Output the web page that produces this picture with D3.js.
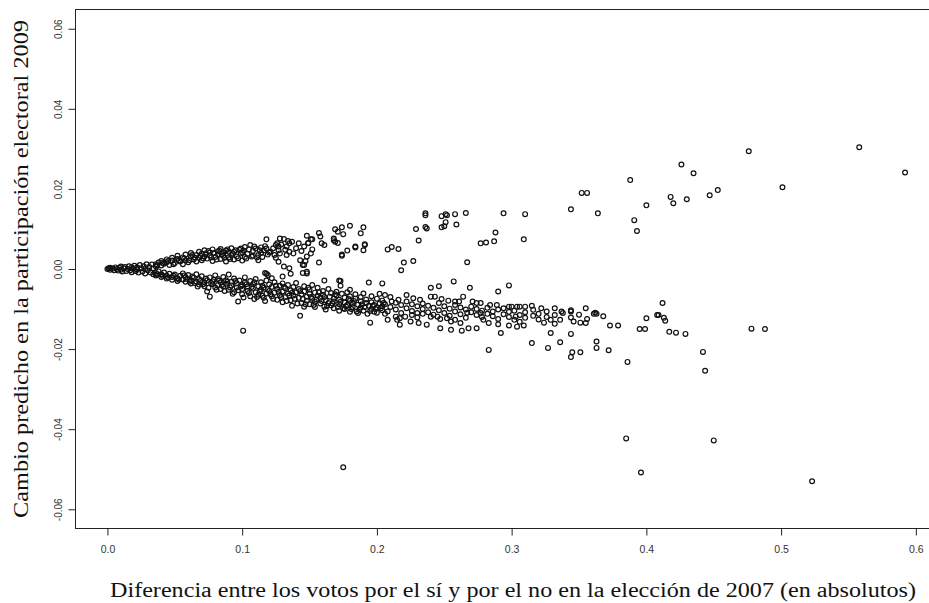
<!DOCTYPE html>
<html>
<head>
<meta charset="utf-8">
<script src="https://d3js.org/d3.v7.min.js"></script>
<style>
  body { margin: 0; background: #fff; }
  .tick-lab { font-family: "Liberation Sans", Arial, sans-serif; font-size: 10.5px; fill: #333; }
  .axis-title { font-family: "Liberation Serif", "DejaVu Serif", serif; font-size: 20px; fill: #111; }
</style>
</head>
<body>
<svg width="929" height="603"></svg>
<script>
// tick values and labels
const xTicks = [0, 0.1, 0.2, 0.3, 0.4, 0.5, 0.6];
const xTickLabels = ["0.0", "0.1", "0.2", "0.3", "0.4", "0.5", "0.6"];
const yTicks = [0.06, 0.04, 0.02, 0, -0.02, -0.04, -0.06];
const yTickLabels = ["0.06", "0.04", "0.02", "0.00", "-0.02", "-0.04", "-0.06"];

const xTitle = "Diferencia entre los votos por el sí y por el no en la elección de 2007 (en absolutos)";
const yTitle = "Cambio predicho en la participación electoral 2009";

// points: [diferencia, cambio]
const originCluster = [
  [0.000,0.0000],[0.001,0.0002],[0.002,0.0003],[0.002,-0.0002],[0.004,0.0001],[0.005,-0.0003],[0.006,0.0004],
  [0.007,0.0000],[0.008,-0.0004],[0.009,0.0003],[0.010,0.0006],[0.010,-0.0002],[0.011,-0.0006],[0.012,0.0002],
  [0.013,0.0005],[0.014,-0.0005],[0.015,0.0000],[0.016,0.0007],[0.017,-0.0003],[0.018,0.0004],[0.018,-0.0008],
  [0.019,0.0001],[0.020,0.0008],[0.021,-0.0005],[0.022,0.0004],[0.022,-0.0001],[0.023,-0.0009],[0.024,0.0010],
  [0.025,0.0002],[0.026,-0.0006],[0.027,0.0007],[0.028,-0.0011],[0.028,0.0000],[0.029,0.0012],[0.030,-0.0003],
  [0.031,0.0005],[0.032,-0.0009],[0.033,0.0011],[0.034,-0.0013],[0.034,0.0002]
];

const upperBranch = [
  [0.036,0.0012],[0.036,0.0006],[0.038,0.0016],[0.040,0.0009],[0.040,0.0020],[0.042,0.0013],[0.044,0.0024],
  [0.044,0.0017],[0.046,0.0010],[0.048,0.0021],[0.048,0.0028],[0.050,0.0015],[0.052,0.0025],[0.052,0.0033],
  [0.054,0.0019],[0.056,0.0012],[0.056,0.0029],[0.058,0.0036],[0.058,0.0022],[0.060,0.0017],[0.062,0.0031],
  [0.062,0.0040],[0.064,0.0024],[0.066,0.0035],[0.066,0.0019],[0.068,0.0043],[0.068,0.0028],[0.070,0.0022],
  [0.070,0.0038],[0.072,0.0047],[0.072,0.0031],[0.074,0.0026],[0.076,0.0041],[0.076,0.0034],[0.078,0.0020],
  [0.078,0.0049],[0.080,0.0030],[0.082,0.0044],[0.082,0.0037],[0.084,0.0025],[0.084,0.0050],[0.086,0.0033],
  [0.086,0.0041],[0.088,0.0046],[0.088,0.0019],[0.090,0.0029],[0.090,0.0043],[0.092,0.0052],[0.092,0.0035],
  [0.094,0.0024],[0.094,0.0043],[0.096,0.0031],[0.098,0.0048],[0.099,0.0051],[0.099,0.0039],[0.100,0.0021],
  [0.100,0.0042],[0.102,0.0055],[0.102,0.0030],[0.104,0.0038],[0.106,0.0060],[0.107,0.0031],[0.108,0.0045],
  [0.108,0.0033],[0.110,0.0051],[0.112,0.0022],[0.112,0.0035],[0.114,0.0054],[0.114,0.0040],[0.116,0.0046],
  [0.118,0.0074],[0.118,0.0051],[0.120,0.0041],[0.121,0.0043],[0.124,0.0035],[0.125,0.0060],[0.126,0.0064],
  [0.127,0.0056],[0.127,0.0047],[0.127,0.0018],[0.128,0.0076],[0.128,0.0039],[0.131,0.0075],[0.131,0.0006],
  [0.133,0.0056],[0.133,0.0035],[0.135,0.0064],[0.135,0.0043],[0.135,0.0002],[0.137,0.0068],[0.138,0.0039],
  [0.143,0.0022],[0.145,0.0010],[0.146,0.0056],[0.146,0.0010],[0.147,0.0020],[0.148,0.0083],[0.148,0.0031],
  [0.149,0.0065],[0.149,0.0064],[0.151,0.0074],[0.151,0.0039],[0.152,0.0049],[0.152,0.0074],[0.157,0.0090],
  [0.157,0.0016],[0.158,0.0081],[0.159,0.0064],[0.161,0.0060],[0.168,0.0076],[0.168,0.0072],[0.169,0.0068],
  [0.169,0.0099],[0.171,0.0065],[0.171,0.0093],[0.174,0.0104],[0.174,0.0033],[0.174,0.0036],[0.175,0.0087],
  [0.178,0.0046],[0.180,0.0108],[0.184,0.0054],[0.184,0.0056],[0.188,0.0089],[0.190,0.0104],[0.190,0.0047],
  [0.191,0.0060],[0.191,0.0062],[0.208,0.0049],[0.211,0.0055],[0.216,0.0050],[0.220,0.0016],[0.227,0.0020],
  [0.229,0.0100],[0.231,0.0071],[0.236,0.0139],[0.236,0.0134],[0.236,0.0105],[0.237,0.0101],[0.248,0.0132],
  [0.248,0.0104],[0.250,0.0107],[0.251,0.0137],[0.251,0.0117],[0.252,0.0134],[0.258,0.0137],[0.259,0.0111],
  [0.266,0.0140],[0.267,0.0017],[0.277,0.0064],[0.281,0.0066],[0.287,0.0069],[0.288,0.0091],[0.294,0.0139],
  [0.309,0.0074],[0.310,0.0137],[0.344,0.0149],[0.352,0.0190],[0.356,0.0190],[0.364,0.0139],[0.388,0.0222],
  [0.391,0.0122],[0.393,0.0095],[0.400,0.0159],[0.418,0.0180],[0.420,0.0164],[0.426,0.0261],[0.430,0.0174],
  [0.435,0.0239],[0.447,0.0184],[0.453,0.0197],[0.476,0.0294],[0.501,0.0204],[0.558,0.0304],[0.592,0.0241]
];

const upperDense = [
  [0.037,0.0009],[0.041,0.0015],[0.045,0.0020],[0.049,0.0012],[0.053,0.0021],[0.057,0.0026],[0.061,0.0022],
  [0.063,0.0035],[0.065,0.0028],[0.069,0.0033],[0.071,0.0027],[0.073,0.0039],[0.075,0.0045],[0.077,0.0029],
  [0.079,0.0040],[0.081,0.0024],[0.083,0.0046],[0.085,0.0037],[0.087,0.0028],[0.089,0.0049],[0.091,0.0025],
  [0.093,0.0039],[0.095,0.0047],[0.097,0.0027],[0.101,0.0046],[0.103,0.0026],[0.105,0.0049],[0.109,0.0056],
  [0.111,0.0029],[0.113,0.0047],[0.115,0.0030],[0.117,0.0057],[0.119,0.0036],[0.123,0.0052],[0.125,0.0028],
  [0.129,0.0061],[0.132,0.0048],[0.134,0.0070],[0.140,0.0052],[0.142,0.0064],[0.144,0.0045]
];

const betweenBranches = [
  [0.118,-0.0012],[0.117,-0.0010],[0.119,-0.0015],[0.122,-0.0023],[0.130,-0.0019],[0.136,-0.0012],
  [0.145,-0.0010],[0.148,-0.0007],[0.148,-0.0011],[0.161,-0.0029],[0.172,-0.0029],[0.173,-0.0042],
  [0.173,-0.0030],[0.180,-0.0052],[0.194,-0.0034],[0.204,-0.0036],[0.218,-0.0003],[0.240,-0.0047],
  [0.246,-0.0043],[0.257,-0.0031],[0.269,-0.0047],[0.290,-0.0056],[0.298,-0.0041]
];

const lowerBranch = [
  [0.036,-0.0010],[0.036,-0.0016],[0.038,-0.0006],[0.040,-0.0013],[0.040,-0.0020],[0.042,-0.0009],[0.044,-0.0017],
  [0.044,-0.0024],[0.046,-0.0012],[0.048,-0.0020],[0.048,-0.0027],[0.050,-0.0014],[0.052,-0.0023],[0.052,-0.0030],
  [0.054,-0.0017],[0.056,-0.0026],[0.056,-0.0011],[0.058,-0.0032],[0.058,-0.0020],[0.060,-0.0015],[0.062,-0.0028],
  [0.062,-0.0036],[0.064,-0.0022],[0.066,-0.0013],[0.066,-0.0031],[0.067,-0.0044],[0.068,-0.0039],[0.068,-0.0025],
  [0.070,-0.0018],[0.072,-0.0034],[0.072,-0.0043],[0.074,-0.0028],[0.074,-0.0056],[0.076,-0.0021],[0.076,-0.0069],
  [0.078,-0.0038],[0.078,-0.0031],[0.080,-0.0046],[0.080,-0.0016],[0.082,-0.0025],[0.082,-0.0040],[0.084,-0.0033],
  [0.084,-0.0050],[0.086,-0.0020],[0.086,-0.0044],[0.088,-0.0037],[0.088,-0.0028],[0.090,-0.0052],[0.090,-0.0014],
  [0.092,-0.0041],[0.092,-0.0032],[0.094,-0.0024],[0.094,-0.0058],[0.096,-0.0046],[0.096,-0.0036],[0.097,-0.0081],
  [0.098,-0.0029],[0.100,-0.0050],[0.100,-0.0040],[0.100,-0.0063],[0.102,-0.0021],[0.102,-0.0034],[0.104,-0.0055],
  [0.104,-0.0044],[0.106,-0.0030],[0.106,-0.0068],[0.108,-0.0049],[0.109,-0.0075],[0.108,-0.0038],[0.110,-0.0025],
  [0.110,-0.0058],[0.112,-0.0043],[0.112,-0.0064],[0.114,-0.0033],[0.114,-0.0052],[0.115,-0.0067],[0.116,-0.0047],
  [0.116,-0.0072],[0.118,-0.0029],[0.118,-0.0061],[0.120,-0.0039],[0.120,-0.0055],[0.122,-0.0068],[0.122,-0.0045],
  [0.124,-0.0033],[0.124,-0.0059],[0.126,-0.0050],[0.126,-0.0077],[0.128,-0.0042],[0.128,-0.0065],[0.130,-0.0036],
  [0.130,-0.0056],[0.130,-0.0083],[0.132,-0.0048],[0.132,-0.0070],[0.134,-0.0061],[0.134,-0.0040],[0.136,-0.0053],
  [0.136,-0.0078],[0.137,-0.0092],[0.138,-0.0045],[0.138,-0.0066],[0.140,-0.0058],[0.140,-0.0035],[0.142,-0.0072],
  [0.142,-0.0050],[0.143,-0.0117],[0.144,-0.0063],[0.144,-0.0085],[0.146,-0.0043],[0.146,-0.0094],[0.146,-0.0056],
  [0.148,-0.0069],[0.148,-0.0079],[0.150,-0.0051],[0.150,-0.0088],[0.150,-0.0062],[0.152,-0.0074],[0.152,-0.0040],
  [0.154,-0.0095],[0.154,-0.0059],[0.154,-0.0082],[0.156,-0.0067],[0.156,-0.0047],[0.158,-0.0086],[0.158,-0.0072],
  [0.160,-0.0055],[0.161,-0.0094],[0.160,-0.0064],[0.162,-0.0078],[0.162,-0.0101],[0.164,-0.0050],[0.164,-0.0085],
  [0.165,-0.0069],[0.166,-0.0091],[0.166,-0.0060],[0.168,-0.0074],[0.168,-0.0098],[0.168,-0.0081],[0.170,-0.0057],
  [0.170,-0.0066],[0.172,-0.0088],[0.172,-0.0104],[0.172,-0.0077],[0.174,-0.0062],[0.175,-0.0098],[0.176,-0.0071],
  [0.176,-0.0084],[0.176,-0.0100],[0.178,-0.0058],[0.178,-0.0090],[0.180,-0.0079],[0.180,-0.0068],[0.180,-0.0107],
  [0.182,-0.0095],[0.182,-0.0086],[0.184,-0.0063],[0.184,-0.0074],[0.185,-0.0106],[0.186,-0.0089],[0.186,-0.0110],
  [0.188,-0.0070],[0.188,-0.0081],[0.188,-0.0096],[0.190,-0.0061],[0.190,-0.0104],[0.192,-0.0085],[0.193,-0.0112],
  [0.192,-0.0076],[0.194,-0.0092],[0.195,-0.0134],[0.196,-0.0068],[0.196,-0.0100],[0.196,-0.0083],[0.198,-0.0107],
  [0.198,-0.0090],[0.200,-0.0074],[0.200,-0.0109],[0.200,-0.0096],[0.202,-0.0086],[0.202,-0.0062],[0.204,-0.0103],
  [0.204,-0.0093],[0.204,-0.0079],[0.206,-0.0065],[0.206,-0.0088],[0.206,-0.0112],[0.208,-0.0106],[0.208,-0.0127],
  [0.210,-0.0095],[0.210,-0.0070],[0.211,-0.0081],[0.214,-0.0101],[0.214,-0.0084],[0.214,-0.0119],[0.215,-0.0127],
  [0.216,-0.0077],[0.217,-0.0123],[0.217,-0.0139],[0.218,-0.0090],[0.218,-0.0110],[0.221,-0.0119],[0.222,-0.0065],
  [0.222,-0.0081],[0.222,-0.0098],[0.225,-0.0131],[0.226,-0.0115],[0.226,-0.0105],[0.226,-0.0088],[0.227,-0.0073],
  [0.230,-0.0110],[0.230,-0.0093],[0.230,-0.0121],[0.231,-0.0135],[0.232,-0.0077],[0.234,-0.0112],[0.234,-0.0086],
  [0.234,-0.0100],[0.237,-0.0139],[0.238,-0.0108],[0.238,-0.0092],[0.240,-0.0069],[0.240,-0.0119],[0.242,-0.0097],
  [0.242,-0.0114],[0.243,-0.0069],[0.245,-0.0119],[0.246,-0.0085],[0.246,-0.0103],[0.247,-0.0125],[0.247,-0.0148],
  [0.248,-0.0075],[0.250,-0.0110],[0.250,-0.0093],[0.252,-0.0123],[0.253,-0.0079],[0.254,-0.0099],[0.254,-0.0117],
  [0.255,-0.0131],[0.255,-0.0152],[0.258,-0.0081],[0.258,-0.0090],[0.258,-0.0106],[0.258,-0.0127],[0.261,-0.0081],
  [0.262,-0.0113],[0.262,-0.0096],[0.262,-0.0135],[0.263,-0.0154],[0.264,-0.0069],[0.266,-0.0101],[0.266,-0.0122],
  [0.267,-0.0109],[0.268,-0.0148],[0.270,-0.0094],[0.270,-0.0108],[0.271,-0.0081],[0.274,-0.0115],[0.274,-0.0100],
  [0.274,-0.0085],[0.274,-0.0148],[0.277,-0.0085],[0.277,-0.0110],[0.278,-0.0104],[0.278,-0.0120],[0.279,-0.0127],
  [0.282,-0.0097],[0.282,-0.0112],[0.283,-0.0135],[0.283,-0.0202],[0.284,-0.0090],[0.286,-0.0118],[0.286,-0.0106],
  [0.289,-0.0090],[0.290,-0.0101],[0.290,-0.0125],[0.290,-0.0138],[0.292,-0.0160],[0.294,-0.0113],[0.294,-0.0098],
  [0.298,-0.0120],[0.298,-0.0107],[0.298,-0.0094],[0.298,-0.0141],[0.300,-0.0094],[0.302,-0.0104],[0.302,-0.0127],
  [0.303,-0.0119],[0.304,-0.0094],[0.304,-0.0144],[0.306,-0.0115],[0.306,-0.0132],[0.306,-0.0094],[0.309,-0.0141],
  [0.310,-0.0108],[0.310,-0.0122],[0.310,-0.0094],[0.315,-0.0092],[0.315,-0.0185],[0.316,-0.0117],[0.316,-0.0102],
  [0.320,-0.0112],[0.320,-0.0126],[0.322,-0.0098],[0.324,-0.0134],[0.326,-0.0106],[0.326,-0.0120],[0.327,-0.0197],
  [0.329,-0.0127],[0.329,-0.0160],[0.332,-0.0098],[0.332,-0.0115],[0.332,-0.0137],[0.336,-0.0127],[0.336,-0.0183],
  [0.337,-0.0106],[0.338,-0.0110],[0.344,-0.0106],[0.344,-0.0121],[0.344,-0.0103],[0.344,-0.0162],[0.344,-0.0220],
  [0.345,-0.0208],[0.346,-0.0131],[0.350,-0.0114],[0.351,-0.0134],[0.351,-0.0208],[0.355,-0.0098],[0.355,-0.0135],
  [0.356,-0.0125],[0.361,-0.0112],[0.362,-0.0109],[0.363,-0.0112],[0.363,-0.0181],[0.363,-0.0197],[0.368,-0.0118],
  [0.372,-0.0203],[0.373,-0.0141],[0.379,-0.0141],[0.395,-0.0150],[0.399,-0.0150],[0.400,-0.0123],[0.408,-0.0115],
  [0.412,-0.0085],[0.409,-0.0115],[0.413,-0.0122],[0.414,-0.0129],[0.417,-0.0157],[0.422,-0.0159],[0.429,-0.0162]
];

const lowerDense = [
  [0.037,-0.0013],[0.041,-0.0017],[0.045,-0.0021],[0.049,-0.0017],[0.053,-0.0026],[0.057,-0.0016],[0.059,-0.0025],
  [0.061,-0.0032],[0.063,-0.0019],[0.065,-0.0035],[0.069,-0.0030],[0.071,-0.0038],[0.073,-0.0024],[0.075,-0.0047],
  [0.077,-0.0035],[0.079,-0.0026],[0.081,-0.0052],[0.083,-0.0029],[0.085,-0.0040],[0.087,-0.0055],[0.089,-0.0032],
  [0.091,-0.0046],[0.093,-0.0062],[0.095,-0.0030],[0.097,-0.0053],[0.099,-0.0044],[0.101,-0.0071],[0.103,-0.0038],
  [0.105,-0.0060],[0.107,-0.0045],[0.109,-0.0033],[0.111,-0.0070],[0.113,-0.0056],[0.115,-0.0042],[0.117,-0.0080],
  [0.119,-0.0050],[0.121,-0.0063],[0.123,-0.0074],[0.125,-0.0042],[0.127,-0.0057],[0.129,-0.0070],[0.131,-0.0045],
  [0.133,-0.0080],[0.135,-0.0066],[0.137,-0.0059],[0.139,-0.0074],[0.141,-0.0086],[0.143,-0.0055],[0.145,-0.0075],
  [0.147,-0.0088],[0.149,-0.0047],[0.151,-0.0070],[0.153,-0.0090],[0.155,-0.0076],[0.157,-0.0058],[0.159,-0.0080],
  [0.161,-0.0070],[0.163,-0.0092],[0.167,-0.0086],[0.169,-0.0063],[0.171,-0.0095],[0.173,-0.0082],[0.177,-0.0093],
  [0.179,-0.0075],[0.181,-0.0100],[0.183,-0.0080],[0.187,-0.0102],[0.189,-0.0088],[0.191,-0.0095],[0.195,-0.0105],
  [0.197,-0.0092],[0.199,-0.0100],[0.203,-0.0098],[0.205,-0.0085]
];

const outliers = [
  [0.1007,-0.0154],[0.175,-0.0495],[0.385,-0.0423],[0.396,-0.0508],[0.450,-0.0428],[0.523,-0.0530],
  [0.386,-0.0232],[0.4436,-0.0254],[0.442,-0.0207],[0.478,-0.0149],[0.488,-0.0150]
];

const allPoints = originCluster.concat(upperBranch, upperDense, betweenBranches, lowerBranch, lowerDense, outliers);

var svg = d3.select("svg");
var xScale = d3.scaleLinear().domain([-0.0237, 0.6157]).range([75.5, 937]);
var yScale = d3.scaleLinear().domain([-0.0648, 0.0648]).range([528.5, 9.5]);

svg.append("clipPath").attr("id", "plotclip")
  .append("rect")
  .attr("x", xScale.range()[0]).attr("y", yScale.range()[1])
  .attr("width", xScale.range()[1] - xScale.range()[0])
  .attr("height", yScale.range()[0] - yScale.range()[1]);

// points
svg.append("g")
  .attr("clip-path", "url(#plotclip)")
  .selectAll("circle")
  .data(allPoints)
  .join("circle")
  .attr("cx", d => xScale(d[0]))
  .attr("cy", d => yScale(d[1]))
  .attr("r", 2.4)
  .attr("fill", "none")
  .attr("stroke", "#111")
  .attr("stroke-width", 1.2);

// box
svg.append("rect")
  .attr("x", xScale.range()[0]).attr("y", yScale.range()[1])
  .attr("width", xScale.range()[1] - xScale.range()[0])
  .attr("height", yScale.range()[0] - yScale.range()[1])
  .attr("fill", "none")
  .attr("stroke", "#222")
  .attr("stroke-width", 1);

// bottom axis, R style
var xAxis = svg.append("g")
  .attr("transform", `translate(0, ${yScale.range()[0]})`)
  .call(d3.axisBottom(xScale).tickValues(xTicks).tickSize(7).tickFormat((d, i) => xTickLabels[i]));
xAxis.select(".domain").remove();
xAxis.selectAll(".tick line").attr("stroke", "#222");
xAxis.selectAll(".tick text").attr("class", "tick-lab").attr("dy", "1.4em").attr("fill", null);

// left axis with rotated labels
var yAxis = svg.append("g")
  .attr("transform", `translate(${xScale.range()[0]}, 0)`)
  .call(d3.axisLeft(yScale).tickValues(yTicks).tickSize(7).tickFormat((d, i) => yTickLabels[i]));
yAxis.select(".domain").remove();
yAxis.selectAll(".tick line").attr("stroke", "#222");
yAxis.selectAll(".tick text")
  .attr("class", "tick-lab")
  .attr("fill", null)
  .attr("x", null).attr("dy", null)
  .attr("text-anchor", "middle")
  .attr("transform", "translate(-14, 0) rotate(-90)")
  .style("font-size", "10px");

// titles
svg.append("text")
  .attr("class", "axis-title")
  .attr("x", 513).attr("y", 597)
  .attr("text-anchor", "middle")
  .attr("textLength", 806)
  .attr("lengthAdjust", "spacingAndGlyphs")
  .text(xTitle);

svg.append("text")
  .attr("class", "axis-title")
  .attr("transform", "translate(28, 269) rotate(-90)")
  .attr("text-anchor", "middle")
  .attr("textLength", 498)
  .attr("lengthAdjust", "spacingAndGlyphs")
  .text(yTitle);
</script>
</body>
</html>
